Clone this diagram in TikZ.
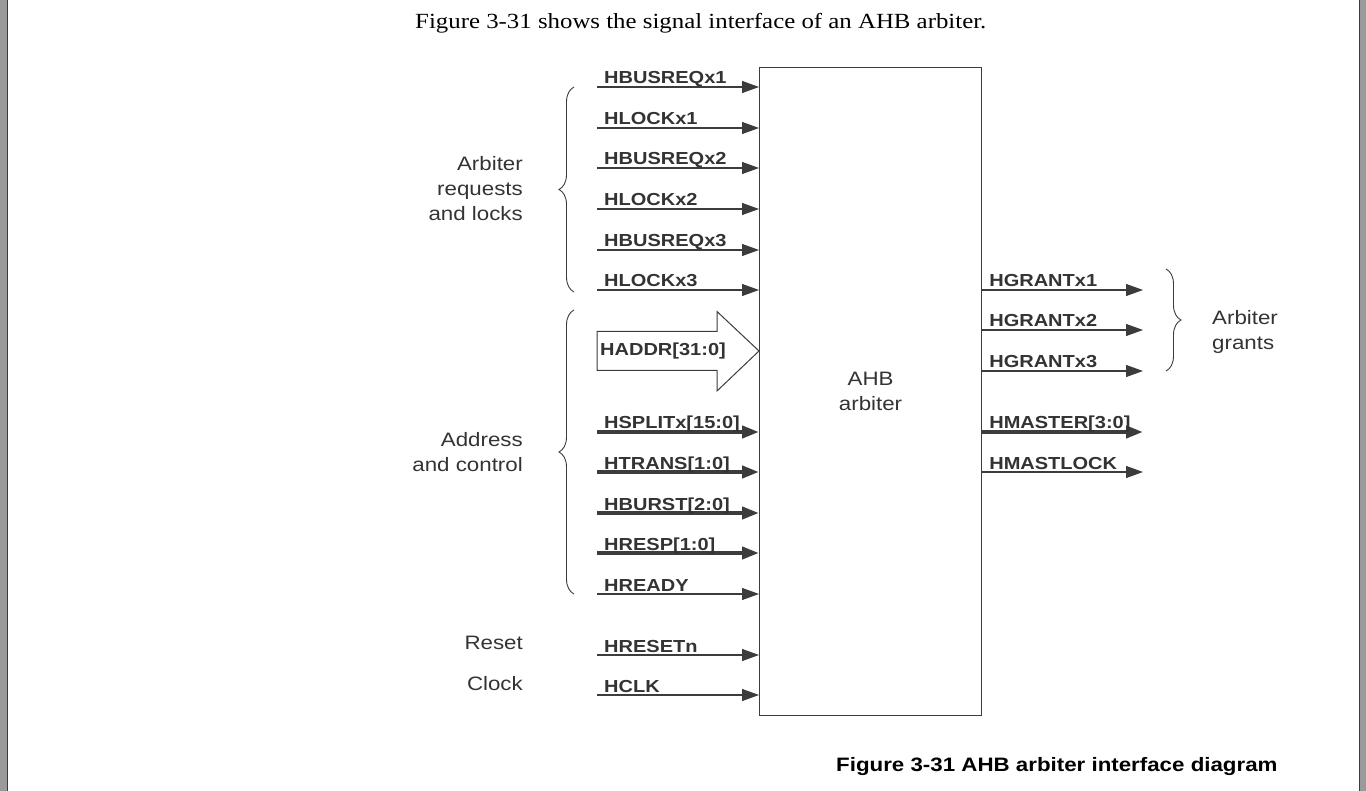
\documentclass[tikz,border=0pt]{standalone}
\usepackage{fontspec}
\setmainfont{Liberation Serif}[FakeStretch=1.15]
\newfontfamily\arialfont{Liberation Sans}[FakeStretch=1.15]
\usetikzlibrary{arrows.meta,positioning,decorations.pathreplacing}
\definecolor{txtgray}{HTML}{333333}
\definecolor{linegray}{HTML}{3C3C3C}
\definecolor{edgegray}{HTML}{9A9A9A}
\newcommand{\sigfont}{\arialfont\bfseries\fontsize{17.4}{20}\selectfont}
\newcommand{\grpfont}{\arialfont\fontsize{19.4}{25}\selectfont}
\tikzset{
	x=1pt, y=-1pt,
	wire/.style = {draw=linegray, line width=1.1pt, -{Triangle[length=17pt,width=12pt]}},
	bus/.style = {wire, line width=4pt},
	siglabel/.style = {font=\sigfont, text=txtgray, inner sep=0pt, anchor=base west},
	grp/.style = {font=\grpfont, text=txtgray, inner sep=0pt, align=right, anchor=east},
	curly/.style = {draw=linegray, line width=0.9pt, decorate, decoration={brace, amplitude=15pt}}
}

\begin{document}
\begin{tikzpicture}
	\useasboundingbox (0,0) rectangle (1366,791);
	% page edges
	\fill[edgegray] (0,0) rectangle (7,791);
	\draw[linegray, line width=1.2pt] (7.5,0) -- (7.5,791);
	\fill[edgegray] (1360,0) rectangle (1366,791);
	\draw[linegray, line width=1.2pt] (1359.5,0) -- (1359.5,791);

	\node[anchor=base west, inner sep=0pt, font=\fontsize{21.6}{24}\selectfont] (title) at (415,29)
		{Figure 3-31 shows the signal interface of an AHB arbiter.};

	% arbiter block
	\node[draw=linegray, line width=1.1pt, minimum width=222pt, minimum height=648pt,
		anchor=north west, font=\grpfont, text=txtgray, align=center] (arb) at (759,67)
		{AHB\\arbiter};

	% inputs
	\foreach \y/\lab/\kind [count=\i] in {87/HBUSREQx1/wire, 128/HLOCKx1/wire,
		168/HBUSREQx2/wire, 209/HLOCKx2/wire, 250/HBUSREQx3/wire, 290/HLOCKx3/wire,
		432/{HSPLITx[15:0]}/bus, 472/{HTRANS[1:0]}/bus, 513/{HBURST[2:0]}/bus,
		553/{HRESP[1:0]}/bus, 594/HREADY/wire, 655/HRESETn/wire, 695/HCLK/wire}
	{
		\coordinate (in\i) at (597,\y);
		\draw[\kind] (in\i) -- (in\i -| arb.west);
		\node[siglabel] (inlab\i) at ([xshift=7pt,yshift=3pt]in\i) {\lab};
	}

	% hollow address arrow
	\coordinate (addr) at (597,351);
	\draw[linegray, line width=1pt, fill=white] (addr) ++(0,-19.5) -- ++(120,0) -- ++(0,-20)
		-- (addr -| arb.west) -- (717,391) -- ++(0,-20.5) -- (597,370.5) -- cycle;
	\node[font=\sigfont, text=txtgray, inner sep=0pt, anchor=west] (addrlab) at (600,351) {HADDR[31:0]};

	% outputs
	\foreach \y/\lab/\kind [count=\i] in {290/HGRANTx1/wire, 330/HGRANTx2/wire,
		371/HGRANTx3/wire, 432/{HMASTER[3:0]}/bus, 472/HMASTLOCK/wire}
	{
		\coordinate (out\i) at (1143,\y);
		\draw[\kind] (out\i -| arb.east) -- (out\i);
		\node[siglabel] (outlab\i) at ([xshift=7pt,yshift=3pt]out\i -| arb.east) {\lab};
	}

	% groups
	\draw[curly] (574,292) -- (574,87);
	\draw[curly] (574,594) -- (574,310);
	\draw[curly] (1166,269) -- (1166,371);
	\node[grp] (reqs) at (523,189) {Arbiter\\requests\\and locks};
	\node[grp] (ctrl) at (523,452) {Address\\and control};
	\node[grp] (rst) at (523,643) {Reset};
	\node[grp] (clk) at (523,684) {Clock};
	\node[grp, align=left, anchor=west] (grants) at (1212,332) {Arbiter\\grants};

	\node[anchor=base west, inner sep=0pt, font=\arialfont\bfseries\fontsize{19.4}{22}\selectfont] (caption) at (836,771)
		{Figure 3-31 AHB arbiter interface diagram};
\end{tikzpicture}
\end{document}
